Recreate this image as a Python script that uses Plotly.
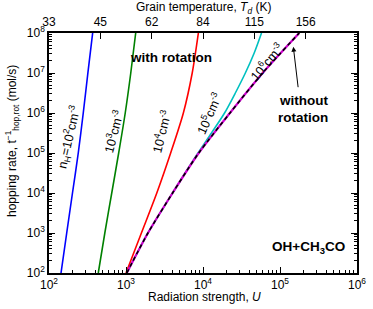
import plotly.graph_objects as go

# ---- data (log10 values) ----
log_rate = [2, 3, 4, 5, 6, 7, 8]                      # log10 hopping rate
logU_nH1e2 = [2.156, 2.23, 2.305, 2.38, 2.445, 2.505, 2.567]
logU_nH1e3 = [2.64, 2.725, 2.815, 2.905, 2.99, 3.062, 3.126]
logU_nH1e4 = [3.0, 3.2, 3.40, 3.58, 3.745, 3.86, 3.94]
log_rate_norot = [2, 2.5, 3, 4, 5, 6, 7, 8]
logU_norot = [3.01, 3.145, 3.285, 3.605, 3.945, 4.35, 4.775, 5.25]
logU_nH1e6 = [3.01, 3.145, 3.285, 3.605, 3.945, 4.35, 4.775, 5.25]
log_rate_nH1e5 = [2, 2.5, 3, 4, 5, 5.5, 6, 6.5, 7, 7.5, 8]
logU_nH1e5 = [3.01, 3.145, 3.285, 3.605, 3.935, 4.11, 4.28, 4.42, 4.55, 4.665, 4.76]

temp_labels = ["33", "45", "62", "84", "115", "156"]
temp_tick_logU = [2, 2 + 2/3, 2 + 4/3, 4, 4 + 2/3, 5 + 1/3]

x_ticks_exp = [2, 3, 4, 5, 6]
y_ticks_exp = [2, 3, 4, 5, 6, 7, 8]

def p(vals):
    return [10 ** v for v in vals]

FONT = "Liberation Sans, Arial, sans-serif"
fig = go.Figure()

def add(lx, ly, color, dash="solid", width=1.6):
    fig.add_trace(go.Scatter(x=p(lx), y=p(ly), mode="lines",
                             line=dict(color=color, width=width, dash=dash, shape="spline", smoothing=0.8),
                             showlegend=False, hoverinfo="skip"))

add(logU_nH1e2, log_rate, "#0000ff")
add(logU_nH1e3, log_rate, "#008000")
add(logU_nH1e4, log_rate, "#ff0000")
add(logU_nH1e5, log_rate_nH1e5, "#00c0c0")
add(logU_nH1e6, log_rate_norot, "#d000d0", width=2.2)
add(logU_norot, log_rate_norot, "#000000", dash="4px,3px", width=1.6)

# dummy trace for top axis
fig.add_trace(go.Scatter(x=[100, 1e6], y=[100, 100], xaxis="x2", mode="lines",
                         line=dict(width=0), showlegend=False, hoverinfo="skip"))

minor_vals = [m * 10 ** e for e in range(2, 6) for m in range(2, 10)]
minor_y = [m * 10 ** e for e in range(2, 8) for m in range(2, 10)]

fig.update_layout(
    width=373, height=309,
    margin=dict(l=49, r=16, t=33, b=36, autoexpand=False),
    paper_bgcolor="white", plot_bgcolor="white",
    font=dict(family=FONT, size=12, color="black"),
    xaxis=dict(type="log", range=[2, 6], showgrid=False, zeroline=False, automargin=False,
               tickvals=p(x_ticks_exp), ticktext=[f"10<sup>{e}</sup>" for e in x_ticks_exp],
               ticks="inside", ticklen=6, tickwidth=1, tickcolor="black",
               showline=True, linecolor="black", linewidth=1.5, mirror=False,
               minor=dict(tickvals=minor_vals, ticks="inside", ticklen=3, tickcolor="black", showgrid=False),
               tickfont=dict(size=12)),
    xaxis2=dict(type="log", range=[2, 6], overlaying="x", side="top", showgrid=False, zeroline=False,
                automargin=False,
                tickvals=p(temp_tick_logU), ticktext=temp_labels,
                ticks="inside", ticklen=6, tickcolor="black",
                showline=True, linecolor="black", linewidth=1.5,
                tickfont=dict(size=12)),
    yaxis=dict(type="log", range=[2, 8], showgrid=False, zeroline=False, automargin=False,
               tickvals=p(y_ticks_exp), ticktext=[f"10<sup>{e}</sup>" for e in y_ticks_exp],
               ticks="inside", ticklen=6, tickcolor="black",
               showline=True, linecolor="black", linewidth=1.5, mirror="ticks",
               minor=dict(tickvals=minor_y, ticks="inside", ticklen=3, tickcolor="black", showgrid=False),
               tickfont=dict(size=12)),
)

def px2paper(x, y):
    return (x - 49) / 308, (273 - y) / 240

def txt(x, y, text, angle=0, size=12.5, bold=False):
    xp, yp = px2paper(x, y)
    if bold:
        text = f"<b>{text}</b>"
    fig.add_annotation(x=xp, y=yp, xref="paper", yref="paper", text=text, showarrow=False,
                       textangle=angle, font=dict(size=size, family=FONT, color="black"),
                       xanchor="center", yanchor="middle")

txt(69, 137, "n<sub>H</sub>=10<sup>2</sup>cm<sup>-3</sup>", angle=-77)
txt(113, 132, "10<sup>3</sup>cm<sup>-3</sup>", angle=-75)
txt(161, 132, "10<sup>4</sup>cm<sup>-3</sup>", angle=-76)
txt(209, 113, "10<sup>5</sup>cm<sup>-3</sup>", angle=-66)
txt(266, 62, "10<sup>6</sup>cm<sup>-3</sup>", angle=-50)
txt(171, 58, "with rotation", size=13.5, bold=True)
txt(303, 100, "without", size=13.5, bold=True)
txt(303, 117, "rotation", size=13.5, bold=True)
txt(308, 247, "OH+CH<sub>3</sub>CO", size=13.5, bold=True)

# axis titles
txt(204, 297, "Radiation strength, <i>U</i>", size=12)
txt(203, 8, "Grain temperature, <i>T<sub>d</sub></i> (K)", size=12)
txt(12, 141, "hopping rate, t<sup>−1</sup><sub>hop,rot</sub> (mol/s)", angle=-90, size=12)

# arrow
tx, ty = px2paper(293.3, 46.7)
fig.add_annotation(x=tx, y=ty, xref="paper", yref="paper", text="", showarrow=True,
                   ax=5, ay=42, arrowhead=2, arrowsize=1, arrowwidth=1, arrowcolor="black")

fig.write_html("out.html", config={"displayModeBar": False},
               post_script="document.body.style.margin='0';document.body.style.overflow='hidden';")
